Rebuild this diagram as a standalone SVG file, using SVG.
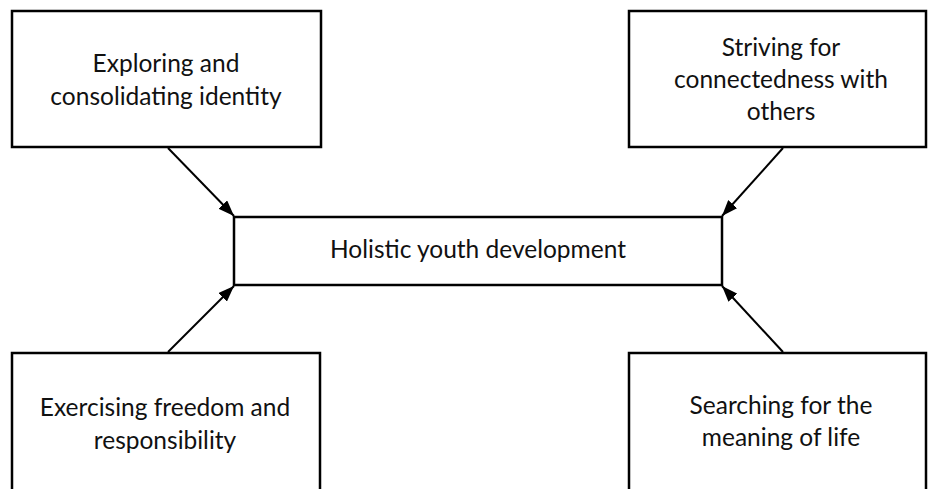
<svg xmlns="http://www.w3.org/2000/svg" width="929" height="489" viewBox="0 0 929 489">
<style>
.box{fill:#fff;stroke:#000;stroke-width:2.5}
.t{font-family:Lato,"Open Sans",sans-serif;font-size:24.5px;fill:#111;text-anchor:middle}
.c{stroke:#000;stroke-width:2;fill:none;marker-end:url(#ah)}
</style>
<defs>
<marker id="ah" viewBox="0 0 16 12" refX="16" refY="6" markerWidth="16" markerHeight="12" markerUnits="userSpaceOnUse" orient="auto">
<path d="M0,0 L16,6 L0,12 z" fill="#000"/>
</marker>
</defs>
<rect width="929" height="489" fill="#fff"/>
<g id="n-identity"><rect class="box" x="12" y="11" width="309" height="136"/>
<text class="t" x="166" y="72">Exploring and</text><text class="t" x="166" y="105">consolidating identity</text></g>
<g id="n-connectedness"><rect class="box" x="629" y="11" width="297" height="136"/>
<text class="t" x="781" y="56">Striving for</text><text class="t" x="781" y="88">connectedness with</text><text class="t" x="781" y="120">others</text></g>
<g id="n-center"><rect class="box" x="234" y="217" width="488" height="68"/>
<text class="t" x="478" y="258">Holistic youth development</text></g>
<g id="n-freedom"><rect class="box" x="12" y="353" width="308" height="140"/>
<text class="t" x="165" y="416">Exercising freedom and</text><text class="t" x="165" y="449">responsibility</text></g>
<g id="n-meaning"><rect class="box" x="629" y="353" width="297" height="140"/>
<text class="t" x="781" y="414">Searching for the</text><text class="t" x="781" y="446">meaning of life</text></g>
<g id="connectors">
<path class="c" d="M168,148 L234,216"/>
<path class="c" d="M783,148 L722,216"/>
<path class="c" d="M168,352 L234,286"/>
<path class="c" d="M783,352 L722,286"/>
</g>
</svg>
